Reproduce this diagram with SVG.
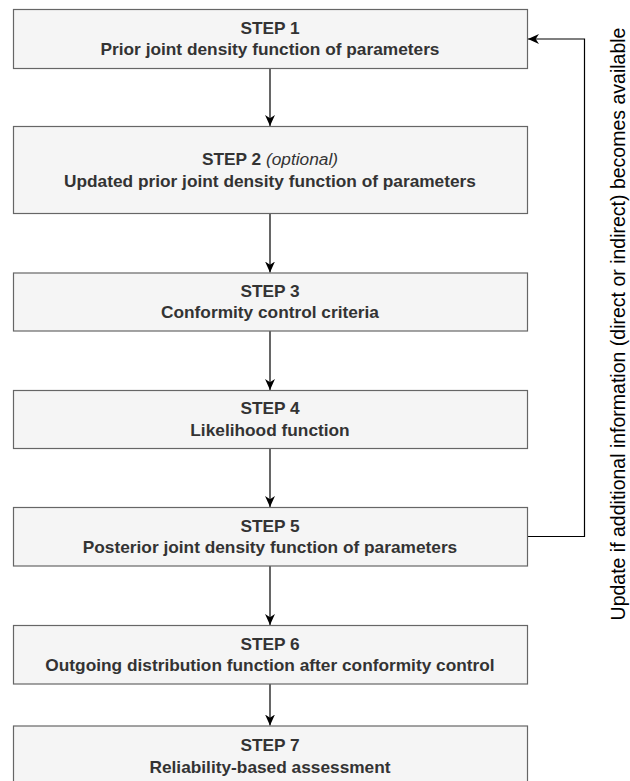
<svg xmlns="http://www.w3.org/2000/svg" width="630" height="781" viewBox="0 0 630 781">
<defs>
<style>
.box{fill:#f5f5f5;stroke:#666666;stroke-width:1.2}
.t{font-family:"Liberation Sans",Arial,sans-serif;font-size:17.3px;font-weight:bold;fill:#333333;text-anchor:middle}
.i{font-weight:normal;font-style:italic}
.edge{fill:none;stroke:#000000;stroke-width:1.2}
.side{font-family:"Liberation Sans",Arial,sans-serif;font-size:19.5px;fill:#000000;text-anchor:middle}
</style>
<marker id="arr" viewBox="0 0 10 10" refX="10" refY="5" markerWidth="11" markerHeight="11" markerUnits="userSpaceOnUse" orient="auto">
<path d="M0,0.5 L10,5 L0,9.5 L3,5 Z" fill="#000000"/>
</marker>
</defs>
<rect width="630" height="781" fill="#ffffff"/>
<g id="connectors">
<line class="edge" x1="270" y1="68.5" x2="270" y2="126" marker-end="url(#arr)"/>
<line class="edge" x1="270" y1="214" x2="270" y2="272.5" marker-end="url(#arr)"/>
<line class="edge" x1="270" y1="331" x2="270" y2="390" marker-end="url(#arr)"/>
<line class="edge" x1="270" y1="449" x2="270" y2="507" marker-end="url(#arr)"/>
<line class="edge" x1="270" y1="566" x2="270" y2="625" marker-end="url(#arr)"/>
<line class="edge" x1="270" y1="684" x2="270" y2="725.5" marker-end="url(#arr)"/>
<polyline class="edge" points="527.5,536.5 584.5,536.5 584.5,39 528,39" marker-end="url(#arr)"/>
</g>
<g id="step1">
<rect class="box" x="13.5" y="9.5" width="514" height="59"/>
<text class="t" x="270" y="33.5">STEP 1</text>
<text class="t" x="270" y="55">Prior joint density function of parameters</text>
</g>
<g id="step2">
<rect class="box" x="13.5" y="126.5" width="514" height="87"/>
<text class="t" x="270" y="165">STEP 2 <tspan class="i">(optional)</tspan></text>
<text class="t" x="270" y="186.5">Updated prior joint density function of parameters</text>
</g>
<g id="step3">
<rect class="box" x="13.5" y="273" width="514" height="58"/>
<text class="t" x="270" y="296.5">STEP 3</text>
<text class="t" x="270" y="318">Conformity control criteria</text>
</g>
<g id="step4">
<rect class="box" x="13.5" y="390.5" width="514" height="58"/>
<text class="t" x="270" y="414">STEP 4</text>
<text class="t" x="270" y="435.5">Likelihood function</text>
</g>
<g id="step5">
<rect class="box" x="13.5" y="507.5" width="514" height="58.5"/>
<text class="t" x="270" y="531.5">STEP 5</text>
<text class="t" x="270" y="553">Posterior joint density function of parameters</text>
</g>
<g id="step6">
<rect class="box" x="13.5" y="625.5" width="514" height="58.5"/>
<text class="t" x="270" y="649.5">STEP 6</text>
<text class="t" x="270" y="671">Outgoing distribution function after conformity control</text>
</g>
<g id="step7">
<rect class="box" x="13.5" y="726" width="514" height="60"/>
<text class="t" x="270" y="751">STEP 7</text>
<text class="t" x="270" y="772.5">Reliability-based assessment</text>
</g>
<g id="side-label">
<text class="side" transform="translate(625,324) rotate(-90)">Update if additional information (direct or indirect) becomes available</text>
</g>
</svg>
